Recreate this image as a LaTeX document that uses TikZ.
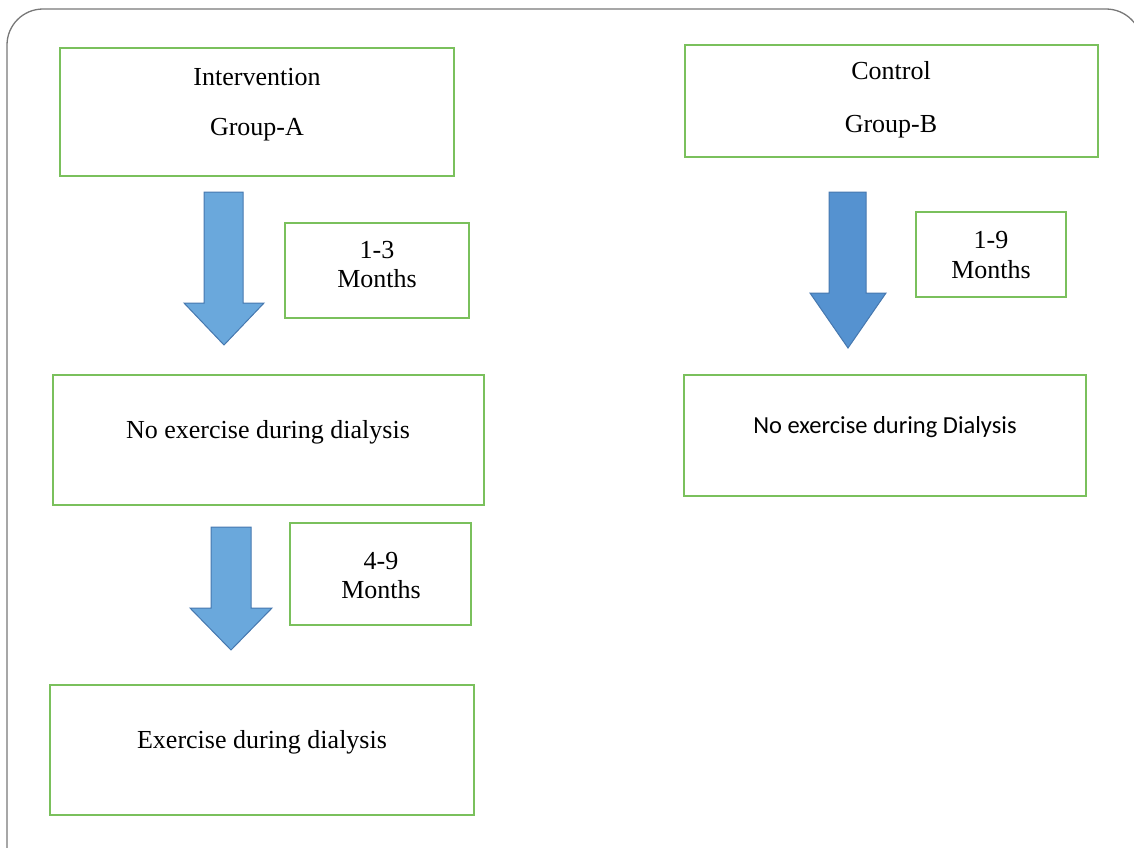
\documentclass[tikz,border=0pt]{standalone}
\usepackage{fontspec}
\setmainfont{Liberation Serif}
\newfontfamily\calib{Carlito}
\definecolor{boxgreen}{RGB}{122,192,92}
\definecolor{arrfill}{RGB}{106,168,220}
\definecolor{arrfilldk}{RGB}{85,146,208}
\definecolor{arredge}{RGB}{70,120,175}
\definecolor{frame}{RGB}{120,120,120}
\begin{document}
\begin{tikzpicture}[x=1pt,y=-1pt,
  gbox/.style={draw=boxgreen,line width=2pt,fill=white},
  txt/.style={font=\fontsize{26}{30}\selectfont,inner sep=0pt,anchor=base},
  blockarrow/.style={fill=arrfill,draw=arredge,line width=1pt,line join=miter}]
\useasboundingbox (0,0) rectangle (1134,847);
\clip (0,0) rectangle (1134,847);
\draw[frame,line width=1.3pt,rounded corners=36pt] (7,9) rectangle (1142,900);
% left column
\draw[gbox] (60,48) rectangle (454,176);
\node[txt] (intv) at (257,85) {Intervention};
\node[txt] (grpA) at (257,135) {Group-A};
\draw[blockarrow] (204,192) -- (243,192) -- (243,303) -- (264,303) -- (224,345) -- (184,303) -- (204,303) -- cycle;
\draw[gbox] (285,223) rectangle (469,318);
\node[txt] (m13a) at (377,258) {1-3};
\node[txt] (m13b) at (377,287) {Months};
\draw[gbox] (53,375) rectangle (484,505);
\node[txt] (noex) at (268,438) {No exercise during dialysis};
\draw[blockarrow] (211,527) -- (251,527) -- (251,608) -- (272,608) -- (231,650) -- (190,608) -- (211,608) -- cycle;
\draw[gbox] (290,523) rectangle (471,625);
\node[txt] (m49a) at (381,569) {4-9};
\node[txt] (m49b) at (381,598) {Months};
\draw[gbox] (50,685) rectangle (474,815);
\node[txt] (ex) at (262,748) {Exercise during dialysis};
% right column
\draw[gbox] (685,45) rectangle (1098,157);
\node[txt] (ctrl) at (891,79) {Control};
\node[txt] (grpB) at (891,132) {Group-B};
\draw[blockarrow,fill=arrfilldk] (829,192) -- (866,192) -- (866,293) -- (886,293) -- (848,348) -- (810,293) -- (829,293) -- cycle;
\draw[gbox] (916,212) rectangle (1066,297);
\node[txt] (m19a) at (991,248) {1-9};
\node[txt] (m19b) at (991,278) {Months};
\draw[gbox] (684,375) rectangle (1086,496);
\node[font=\calib\fontsize{24.5}{28}\selectfont,inner sep=0pt,anchor=base] (noexB) at (885,433) {No exercise during Dialysis};
\end{tikzpicture}
\end{document}
